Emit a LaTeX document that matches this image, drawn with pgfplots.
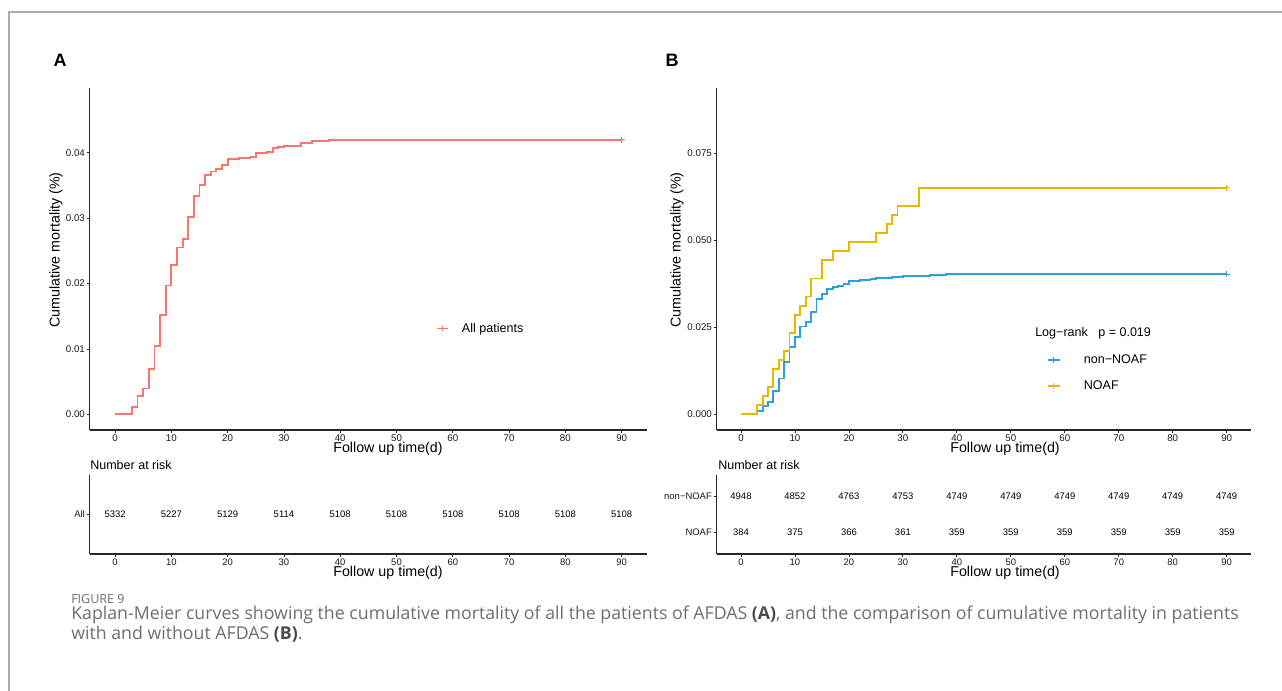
\documentclass[border=0pt]{standalone}
\usepackage{fontspec}
\setmainfont{Liberation Sans}
\newfontfamily\capfont{Open Sans}
\usepackage{pgfplots}
\pgfplotsset{compat=1.18}
\definecolor{kmred}{RGB}{248,118,109}
\definecolor{kmblue}{RGB}{46,159,223}
\definecolor{kmorange}{RGB}{231,184,0}
\definecolor{capgray}{RGB}{110,110,110}
\newcommand{\fs}[1]{\fontsize{#1}{#1}\selectfont}
\pgfplotsset{
  km/.style={scale only axis, axis lines=left,
    axis line style={-, line width=0.8pt, black!85},
    tick align=outside, major tick length=2.25pt,
    tick style={line width=0.6pt, black!85},
    ticklabel style={font=\fs{7.3}, text=black!90, inner sep=1.2pt},
    scaled y ticks=false, scaled x ticks=false,
    xmin=-4.5, xmax=94.5, xtick={0,10,20,30,40,50,60,70,80,90},
    xticklabels={0,10,20,30,40,50,60,70,80,90}},
  risk/.style={km, height=59.25pt, ymin=0.4,
    every node near coord/.style={anchor=center, font=\fs{7.1}, text=black},
    ticklabel style={font=\fs{7.1}}},
}
\begin{document}
\begin{tikzpicture}[x=0.75pt, y=0.75pt]
\path[use as bounding box] (0,0) rectangle (1282,691);
\draw[gray!65, line width=1.1pt] (9,0) -- (9,{691-12}) -- (1282,{691-12});

% ---------- Panel A main ----------
\begin{axis}[km, at={(67.275pt,195.75pt)}, anchor=south west, width=418pt, height=256.5pt,
  ymin=-0.0024, ymax=0.0499, ytick={0,0.01,0.02,0.03,0.04},
  yticklabels={0.00,0.01,0.02,0.03,0.04},
  legend image code/.code={\draw[#1, line width=1.2pt] (0pt,0pt) -- (8.25pt,0pt);
    \draw[#1, line width=0.8pt] (4.1pt,-2.2pt) -- (4.1pt,2.2pt);
    \path[draw=none] (0pt,0pt) -- (18.75pt,0pt);},
  legend style={at={(axis cs:57,0.01312)}, anchor=west, draw=none, fill=none,
    inner sep=0pt, nodes={inner sep=0pt}, font=\fs{9.4}},
  legend cell align=left]
\addplot[const plot, kmred, line width=1.4pt, forget plot] coordinates {
(0,0) (3,0.001125) (4,0.00281) (5,0.00394) (6,0.00694) (7,0.0105) (8,0.01519)
(9,0.01969) (10,0.02288) (11,0.02551) (12,0.02682) (13,0.0302) (14,0.03338)
(15,0.03507) (16,0.03657) (17,0.03713) (18,0.03751) (19,0.03807) (20,0.03901)
(22,0.0392) (24,0.03938) (25,0.03995) (27,0.04013) (28,0.0407) (29,0.04088)
(30,0.04107) (33,0.04145) (35,0.04182) (38,0.04201) (90,0.04201)};
\addplot[only marks, mark=+, mark size=2.25pt, kmred, line width=0.8pt, forget plot]
  coordinates {(90,0.04201)};
\addlegendimage{kmred}
\addlegendentry{All patients}
\end{axis}

% ---------- Panel A risk table ----------
\begin{axis}[risk, at={(67.275pt,102.75pt)}, anchor=south west, width=418pt,
  ymax=1.6, ytick={1}, yticklabels={All}]
\addplot[draw=none, mark=none, nodes near coords, point meta=explicit symbolic]
  table[meta=n] {
x y n
0 1 5332
10 1 5227
20 1 5129
30 1 5114
40 1 5108
50 1 5108
60 1 5108
70 1 5108
80 1 5108
90 1 5108
};
\end{axis}

% ---------- Panel B main ----------
\begin{axis}[km, at={(537.525pt,195.75pt)}, anchor=south west, width=400.7pt, height=256.5pt,
  ymin=-0.0045, ymax=0.0938, ytick={0,0.025,0.05,0.075},
  yticklabels={0.000,0.025,0.050,0.075},
  legend image code/.code={\draw[#1, line width=1.2pt] (0pt,0pt) -- (9pt,0pt);
    \draw[#1, line width=0.8pt] (4.5pt,-2.2pt) -- (4.5pt,2.2pt);
    \path[draw=none] (0pt,0pt) -- (27pt,0pt);},
  legend style={at={(axis cs:56.67,0.01187)}, anchor=west, draw=none, fill=none,
    inner sep=0pt, row sep=11.25pt,
    nodes={inner sep=0pt, text height=6.75pt, text depth=1.5pt}, font=\fs{9.4}},
  legend cell align=left]
\addplot[const plot, kmblue, line width=1.4pt, forget plot] coordinates {
(0,0) (3,0.00101) (4,0.00243) (5,0.00364) (6,0.00667) (7,0.01031) (8,0.01516)
(9,0.0194) (10,0.02223) (11,0.02526) (12,0.02648) (13,0.02951) (14,0.03314)
(15,0.03456) (16,0.03597) (17,0.03658) (18,0.03698) (19,0.03739) (20,0.0382)
(22,0.0386) (24,0.03901) (25,0.03921) (28,0.03941) (30,0.03981) (35,0.04002)
(38,0.04022) (90,0.04022)};
\addplot[const plot, kmorange, line width=1.4pt, forget plot] coordinates {
(0,0) (3,0.0026) (4,0.00521) (5,0.00781) (6,0.01302) (7,0.01563) (8,0.01823)
(9,0.02344) (10,0.02865) (11,0.03125) (12,0.03385) (13,0.03906) (15,0.04427)
(17,0.04688) (20,0.04948) (25,0.05208) (27,0.05469) (28,0.05729) (29,0.0599)
(33,0.0651) (90,0.0651)};
\addplot[only marks, mark=+, mark size=2.25pt, kmblue, line width=0.8pt, forget plot]
  coordinates {(90,0.04022)};
\addplot[only marks, mark=+, mark size=2.25pt, kmorange, line width=0.8pt, forget plot]
  coordinates {(90,0.0651)};
\addlegendimage{kmblue}
\addlegendentry{non−NOAF}
\addlegendimage{kmorange}
\addlegendentry{NOAF}
\end{axis}

% ---------- Panel B risk table ----------
\begin{axis}[risk, at={(537.525pt,102.75pt)}, anchor=south west, width=400.7pt,
  ymax=2.6, ytick={1,2}, yticklabels={NOAF,non−NOAF}]
\addplot[draw=none, mark=none, nodes near coords, point meta=explicit symbolic]
  table[meta=n] {
x y n
0 2 4948
10 2 4852
20 2 4763
30 2 4753
40 2 4749
50 2 4749
60 2 4749
70 2 4749
80 2 4749
90 2 4749
0 1 384
10 1 375
20 1 366
30 1 361
40 1 359
50 1 359
60 1 359
70 1 359
80 1 359
90 1 359
};
\end{axis}

% ---------- texts ----------
\node[font=\bfseries\fs{13.5}] at (60,{691-60}) {A};
\node[font=\bfseries\fs{13.5}] at (672,{691-60}) {B};
\node[font=\fs{10.7}, rotate=90] at (56,{691-250}) {Cumulative mortality (\%)};
\node[font=\fs{10.7}, rotate=90] at (677,{691-250}) {Cumulative mortality (\%)};
\node[font=\fs{10.7}] at (388,{691-449}) {Follow up time(d)};
\node[font=\fs{10.7}] at (1005,{691-449}) {Follow up time(d)};
\node[font=\fs{10.7}] at (388,{691-573}) {Follow up time(d)};
\node[font=\fs{10.7}] at (1005,{691-573}) {Follow up time(d)};
\node[font=\fs{9.4}, anchor=west, inner sep=0pt] at (90,{691-465}) {Number at risk};
\node[font=\fs{9.4}, anchor=west, inner sep=0pt] at (718,{691-465}) {Number at risk};
\node[font=\fs{9.4}, anchor=west, inner sep=0pt] at (1035,{691-333}) {Log−rank\ \ \ p = 0.019};

\node[font=\capfont\fs{9.4}, text=capgray, anchor=west, inner sep=0pt] at (71,{691-599}) {FIGURE 9};
\node[font=\capfont\fs{13.3}, text=capgray, anchor=west, inner sep=0pt] at (71,{691-615})
  {Kaplan-Meier curves showing the cumulative mortality of all the patients of AFDAS \textbf{\color{black!70}(A)}, and the comparison of cumulative mortality in patients};
\node[font=\capfont\fs{13.3}, text=capgray, anchor=west, inner sep=0pt] at (71,{691-634})
  {with and without AFDAS \textbf{\color{black!70}(B)}.};
\end{tikzpicture}
\end{document}
